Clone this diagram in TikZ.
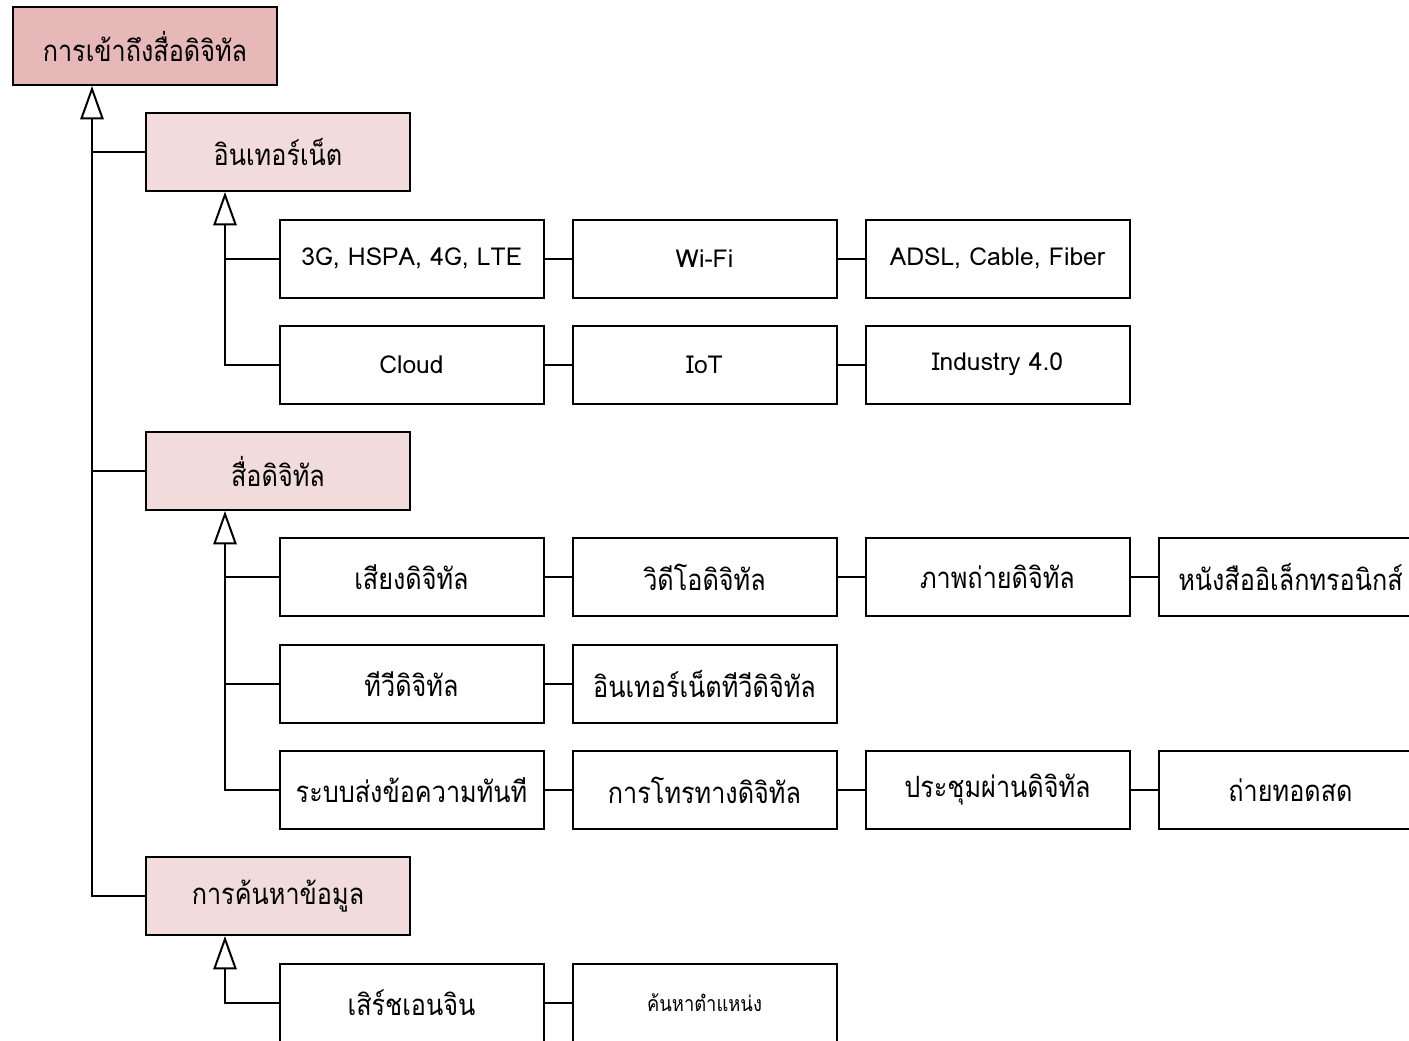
\documentclass[tikz,border=0pt]{standalone}
\usepackage{fontspec}
\setmainfont[Script=Thai]{Loma}
\newfontfamily\thaitall[Script=Thai,FakeStretch=0.86]{Loma}
\usetikzlibrary{arrows.meta}
\definecolor{rootfill}{HTML}{E6B9B8}
\definecolor{lonefill}{HTML}{F2DCDB}
\begin{document}
\begin{tikzpicture}[x=0.75pt,y=-0.75pt,
  box/.style={draw=black,line width=1.5pt,minimum width=198pt,minimum height=58.5pt,inner sep=0pt,
    font=\thaitall\fontsize{22}{26}\selectfont,fill=white},
  latin/.style={font=\fontsize{18.5}{22}\selectfont},
  rootbox/.style={box,fill=rootfill},
  onebox/.style={box,fill=lonefill},
  link/.style={draw=black,line width=1.5pt},
  inh/.style={link,-{Triangle[open,width=17.5pt,length=25pt,line width=1.5pt]}}]
\useasboundingbox (0,0) rectangle (1409,1040);
\clip (0,0) rectangle (1409,1040);
\coordinate (t1) at (92,0);
\coordinate (t2) at (225,0);
% level 0 and 1
\node[rootbox] (root) at (145,46) {การเข้าถึงสื่อดิจิทัล};
\node[onebox] (net) at (278,152) {อินเทอร์เน็ต};
\node[onebox] (media) at (278,471) {สื่อดิจิทัล};
\node[onebox] (search) at (278,896) {การค้นหาข้อมูล};
% internet children
\node[box,latin] (n11) at (411.5,258.5) {3G, HSPA, 4G, LTE};
\node[box,latin] (n12) at (704.5,258.5) {Wi-Fi};
\node[box,latin] (n13) at (997.5,258.5) {ADSL, Cable, Fiber};
\node[box,latin] (n21) at (411.5,364.5) {Cloud};
\node[box,latin] (n22) at (704.5,364.5) {IoT};
\node[box,latin] (n23) at (997.5,364.5) {Industry 4.0};
% media children
\node[box] (m11) at (411.5,577) {เสียงดิจิทัล};
\node[box] (m12) at (704.5,577) {วิดีโอดิจิทัล};
\node[box] (m13) at (997.5,577) {ภาพถ่ายดิจิทัล};
\node[box] (m14) at (1290.5,577) {หนังสืออิเล็กทรอนิกส์};
\node[box] (m21) at (411.5,684) {ทีวีดิจิทัล};
\node[box] (m22) at (704.5,684) {อินเทอร์เน็ตทีวีดิจิทัล};
\node[box] (m31) at (411.5,790) {ระบบส่งข้อความทันที};
\node[box] (m32) at (704.5,790) {การโทรทางดิจิทัล};
\node[box] (m33) at (997.5,790) {ประชุมผ่านดิจิทัล};
\node[box] (m34) at (1290.5,790) {ถ่ายทอดสด};
% search children
\node[box] (s11) at (411.5,1003) {เสิร์ชเอนจิน};
\node[box,font=\thaitall\fontsize{16}{19}\selectfont] (s12) at (704.5,1003) {ค้นหาตำแหน่ง};
% trunk
\draw[inh] (search.west) -| (root.south -| t1);
\draw[link] (net.west) -- (net.west -| t1);
\draw[link] (media.west) -- (media.west -| t1);
% internet branch
\draw[inh] (n21.west) -| (net.south -| t2);
\draw[link] (n11.west) -- (n11.west -| t2);
% media branch
\draw[inh] (m31.west) -| (media.south -| t2);
\draw[link] (m11.west) -- (m11.west -| t2);
\draw[link] (m21.west) -- (m21.west -| t2);
% search branch
\draw[inh] (s11.west) -| (search.south -| t2);
% sibling links
\draw[link] (n11.east) -- (n12.west);
\draw[link] (n12.east) -- (n13.west);
\draw[link] (n21.east) -- (n22.west);
\draw[link] (n22.east) -- (n23.west);
\draw[link] (m11.east) -- (m12.west);
\draw[link] (m12.east) -- (m13.west);
\draw[link] (m13.east) -- (m14.west);
\draw[link] (m21.east) -- (m22.west);
\draw[link] (m31.east) -- (m32.west);
\draw[link] (m32.east) -- (m33.west);
\draw[link] (m33.east) -- (m34.west);
\draw[link] (s11.east) -- (s12.west);
\end{tikzpicture}
\end{document}
